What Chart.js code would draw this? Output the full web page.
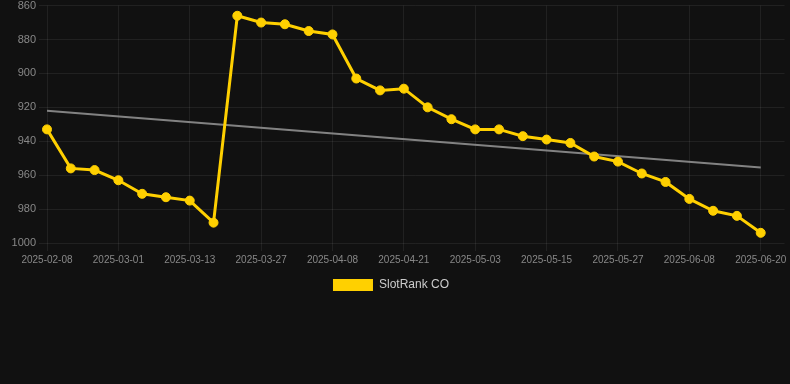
<!DOCTYPE html>
<html>
<head>
<meta charset="utf-8">
<script src="https://cdn.jsdelivr.net/npm/chart.js@4.4.1/dist/chart.umd.min.js"></script>
<style>
  html, body { margin: 0; padding: 0; background: #111111; overflow: hidden; }
  #wrap { width: 790px; height: 305px; position: relative; margin-top: -4px; }
</style>
</head>
<body>
<div id="wrap"><canvas id="c"></canvas></div>
<script>
const categories = [
  '2025-02-08','2025-02-15','2025-02-22','2025-03-01','2025-03-05','2025-03-09',
  '2025-03-13','2025-03-18','2025-03-22','2025-03-27','2025-03-31','2025-04-04',
  '2025-04-08','2025-04-12','2025-04-17','2025-04-21','2025-04-25','2025-04-29',
  '2025-05-03','2025-05-07','2025-05-11','2025-05-15','2025-05-19','2025-05-23',
  '2025-05-27','2025-05-31','2025-06-04','2025-06-08','2025-06-12','2025-06-16',
  '2025-06-20','2025-06-24'
];
const rankValues = [
  933, 956, 957, 963, 971, 973, 975, 988, 866, 870, 871, 875, 877, 903, 910, 909,
  920, 927, 933, 933, 937, 939, 941, 949, 952, 959, 964, 974, 981, 984, 994
];
const trendStart = 922;
const trendEnd = 955.5;
const yTicks = [860, 880, 900, 920, 940, 960, 980, 1000];
const seriesName = 'SlotRank CO';

const trendData = [
  { x: categories[0], y: trendStart },
  { x: categories[rankValues.length - 1], y: trendEnd }
];

const gridColor = 'rgba(255,255,255,0.07)';
const FONT = 'Liberation Sans, Arial, sans-serif';

new Chart(document.getElementById('c'), {
  type: 'line',
  data: {
    labels: categories,
    datasets: [
      {
        label: seriesName,
        data: rankValues,
        borderColor: '#FFD000',
        backgroundColor: '#FFD000',
        borderWidth: 3,
        pointRadius: 4.5,
        pointBorderWidth: 1,
        pointHoverRadius: 4.5,
        pointBackgroundColor: '#FFD000',
        pointBorderColor: '#FFD000',
        tension: 0,
        order: 1
      },
      {
        label: 'trend',
        data: trendData,
        borderColor: 'rgba(150,150,150,0.85)',
        borderWidth: 2,
        pointRadius: 0,
        fill: false,
        order: 2
      }
    ]
  },
  options: {
    responsive: true,
    maintainAspectRatio: false,
    animation: false,
    layout: { padding: { left: -4, right: 4, top: 0, bottom: 0 } },
    plugins: {
      tooltip: { enabled: false },
      legend: {
        position: 'bottom',
        labels: {
          color: '#cccccc',
          font: { family: FONT, size: 12 },
          boxWidth: 40,
          boxHeight: 12,
          filter: (item) => item.text === seriesName,
          generateLabels: (chart) => Chart.defaults.plugins.legend.labels.generateLabels(chart)
            .map(l => Object.assign(l, { lineWidth: 0, strokeStyle: 'rgba(0,0,0,0)' }))
        }
      }
    },
    scales: {
      x: {
        type: 'category',
        offset: false,
        grid: {
          color: (ctx) => (ctx.index % 3 === 0 ? gridColor : 'rgba(0,0,0,0)'),
          tickLength: 8
        },
        border: { display: false },
        ticks: {
          autoSkip: false,
          maxRotation: 0,
          color: '#888888',
          font: { family: FONT, size: 10 },
          callback: function (val, idx) {
            return idx % 3 === 0 && idx < rankValues.length ? this.getLabelForValue(val) : '';
          }
        }
      },
      y: {
        reverse: true,
        min: 860,
        max: 1000,
        afterBuildTicks: (axis) => { axis.ticks = yTicks.map(v => ({ value: v })); },
        afterFit: (axis) => { axis.width = 51; },
        grid: { color: gridColor, tickLength: 8 },
        border: { display: false },
        ticks: {
          color: '#888888',
          font: { family: FONT, size: 11 },
          padding: 3,
          callback: (v) => String(v)
        }
      }
    }
  }
});
</script>
</body>
</html>
